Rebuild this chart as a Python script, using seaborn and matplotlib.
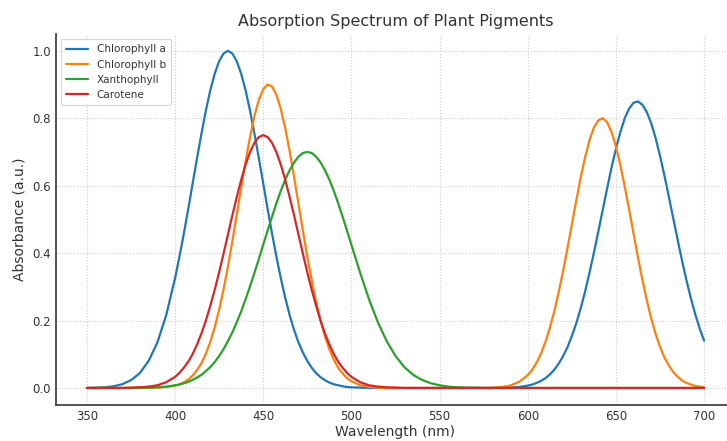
import numpy as np
import pandas as pd
import matplotlib
matplotlib.use("Agg")
import matplotlib.pyplot as plt
import seaborn as sns

# wavelength samples (nm): 5 nm steps on the flat parts, 2.5 nm around the peaks
wl_blue_1 = [350, 355, 360, 365, 370, 375, 380, 385, 390, 395]
wl_peaks_1 = list(np.arange(400, 500.1, 2.5))
wl_gap = [505, 510, 515, 520, 525, 530, 535, 540, 545, 550,
          555, 560, 565, 570, 575, 580, 585, 590, 595]
wl_peaks_2 = list(np.arange(600, 700.1, 2.5))
wavelength = wl_blue_1 + wl_peaks_1 + wl_gap + wl_peaks_2

chlorophyll_a = [
    # 350-395
    0.000, 0.001, 0.002, 0.005, 0.011, 0.023, 0.044, 0.080, 0.135, 0.216,
    # 400-500
    0.325, 0.389, 0.458, 0.531, 0.607, 0.682, 0.755, 0.823, 0.883, 0.932,
    0.969, 0.992, 1.000, 0.992, 0.969, 0.932, 0.883, 0.823, 0.755, 0.682,
    0.607, 0.531, 0.458, 0.389, 0.325, 0.267, 0.216, 0.172, 0.135, 0.105,
    0.080, 0.060, 0.044, 0.032, 0.023, 0.016, 0.011, 0.008, 0.005, 0.003,
    0.002,
    # 505-595
    0.001, 0.000, 0.000, 0.000, 0.000, 0.000, 0.000, 0.000, 0.000, 0.000,
    0.000, 0.000, 0.000, 0.000, 0.000, 0.000, 0.001, 0.001, 0.003,
    # 600-700
    0.007, 0.010, 0.015, 0.021, 0.029, 0.040, 0.054, 0.072, 0.094, 0.121,
    0.154, 0.192, 0.236, 0.286, 0.342, 0.401, 0.464, 0.528, 0.592, 0.654,
    0.710, 0.759, 0.800, 0.829, 0.846, 0.850, 0.840, 0.818, 0.785, 0.741,
    0.688, 0.630, 0.567, 0.503, 0.439, 0.377, 0.319, 0.266, 0.218, 0.176,
    0.140,
]
chlorophyll_b = [
    # 350-395
    0.000, 0.000, 0.000, 0.000, 0.000, 0.000, 0.000, 0.000, 0.001, 0.003,
    # 400-500
    0.007, 0.011, 0.017, 0.025, 0.037, 0.053, 0.074, 0.102, 0.137, 0.180,
    0.232, 0.292, 0.360, 0.435, 0.514, 0.594, 0.672, 0.744, 0.806, 0.854,
    0.886, 0.900, 0.894, 0.869, 0.827, 0.770, 0.702, 0.626, 0.546, 0.466,
    0.390, 0.319, 0.255, 0.200, 0.153, 0.115, 0.084, 0.060, 0.043, 0.029,
    0.020,
    # 505-595
    0.008, 0.003, 0.001, 0.000, 0.000, 0.000, 0.000, 0.000, 0.000, 0.000,
    0.000, 0.000, 0.000, 0.000, 0.000, 0.001, 0.003, 0.007, 0.018,
    # 600-700
    0.038, 0.054, 0.075, 0.102, 0.136, 0.178, 0.227, 0.283, 0.346, 0.414,
    0.485, 0.556, 0.624, 0.684, 0.735, 0.772, 0.794, 0.800, 0.788, 0.759,
    0.716, 0.661, 0.597, 0.528, 0.457, 0.387, 0.320, 0.260, 0.206, 0.160,
    0.122, 0.090, 0.066, 0.047, 0.033, 0.022, 0.015, 0.010, 0.006, 0.004,
    0.002,
]
xanthophyll = [
    # 350-395
    0.000, 0.000, 0.000, 0.000, 0.000, 0.000, 0.001, 0.001, 0.002, 0.004,
    # 400-500
    0.008, 0.010, 0.014, 0.018, 0.024, 0.031, 0.039, 0.050, 0.062, 0.077,
    0.095, 0.115, 0.139, 0.165, 0.195, 0.227, 0.263, 0.301, 0.341, 0.382,
    0.425, 0.467, 0.508, 0.548, 0.585, 0.618, 0.646, 0.669, 0.686, 0.697,
    0.700, 0.697, 0.686, 0.669, 0.646, 0.618, 0.585, 0.548, 0.508, 0.467,
    0.425,
    # 505-595
    0.341, 0.263, 0.195, 0.139, 0.095, 0.062, 0.039, 0.024, 0.014, 0.008,
    0.004, 0.002, 0.001, 0.001, 0.000, 0.000, 0.000, 0.000, 0.000,
    # 600-700
    0.000, 0.000, 0.000, 0.000, 0.000, 0.000, 0.000, 0.000, 0.000, 0.000,
    0.000, 0.000, 0.000, 0.000, 0.000, 0.000, 0.000, 0.000, 0.000, 0.000,
    0.000, 0.000, 0.000, 0.000, 0.000, 0.000, 0.000, 0.000, 0.000, 0.000,
    0.000, 0.000, 0.000, 0.000, 0.000, 0.000, 0.000, 0.000, 0.000, 0.000,
    0.000,
]
carotene = [
    # 350-395
    0.000, 0.000, 0.000, 0.000, 0.000, 0.001, 0.002, 0.004, 0.008, 0.017,
    # 400-500
    0.033, 0.045, 0.060, 0.078, 0.101, 0.129, 0.162, 0.200, 0.244, 0.291,
    0.343, 0.398, 0.455, 0.512, 0.566, 0.617, 0.662, 0.699, 0.727, 0.744,
    0.750, 0.744, 0.727, 0.699, 0.662, 0.617, 0.566, 0.512, 0.455, 0.398,
    0.343, 0.291, 0.244, 0.200, 0.162, 0.129, 0.101, 0.078, 0.060, 0.045,
    0.033,
    # 505-595
    0.017, 0.008, 0.004, 0.002, 0.001, 0.000, 0.000, 0.000, 0.000, 0.000,
    0.000, 0.000, 0.000, 0.000, 0.000, 0.000, 0.000, 0.000, 0.000,
    # 600-700
    0.000, 0.000, 0.000, 0.000, 0.000, 0.000, 0.000, 0.000, 0.000, 0.000,
    0.000, 0.000, 0.000, 0.000, 0.000, 0.000, 0.000, 0.000, 0.000, 0.000,
    0.000, 0.000, 0.000, 0.000, 0.000, 0.000, 0.000, 0.000, 0.000, 0.000,
    0.000, 0.000, 0.000, 0.000, 0.000, 0.000, 0.000, 0.000, 0.000, 0.000,
    0.000,
]

pigments = ["Chlorophyll a", "Chlorophyll b", "Xanthophyll", "Carotene"]
colors = ["#1f77b4", "#ff7f0e", "#2ca02c", "#d62728"]

# long-form table for seaborn
df = pd.concat([
    pd.DataFrame({"Wavelength": wavelength, "Absorbance": vals, "Pigment": name})
    for name, vals in zip(pigments, [chlorophyll_a, chlorophyll_b, xanthophyll, carotene])
])

sns.set_style("white")
plt.rcParams['font.family'] = ['DejaVu Sans']

fig = plt.figure(figsize=(7.27, 4.41), dpi=100)
ax = fig.add_axes([0.077, 0.082, 0.934, 0.841])

sns.lineplot(data=df, x="Wavelength", y="Absorbance", hue="Pigment",
             hue_order=pigments, palette=colors, linewidth=1.6, ax=ax)

ax.set_xlim(332.5, 717.5)
ax.set_ylim(-0.05, 1.05)
ax.set_xticks([350, 400, 450, 500, 550, 600, 650, 700])
ax.set_yticks([0.0, 0.2, 0.4, 0.6, 0.8, 1.0])

ax.grid(True, linestyle=':', linewidth=0.8, color='#cccccc')
ax.set_axisbelow(True)

for side in ['top', 'right']:
    ax.spines[side].set_visible(False)
for side in ['left', 'bottom']:
    ax.spines[side].set_color('#444444')
    ax.spines[side].set_linewidth(1.3)

ax.tick_params(axis='both', direction='in', length=4, width=1, colors='#555555',
               labelcolor='#333333', labelsize=8.5)

ax.set_title("Absorption Spectrum of Plant Pigments", fontsize=11.5, color='#333333')
ax.set_xlabel("Wavelength (nm)", fontsize=10, color='#333333', labelpad=2)
ax.set_ylabel("Absorbance (a.u.)", fontsize=10, color='#333333', labelpad=4)

leg = ax.legend(loc='upper left', fontsize=7.5, frameon=True, handlelength=2.1,
                borderpad=0.5, labelspacing=0.5)
leg.set_title(None)
leg.get_frame().set_edgecolor('#cccccc')
leg.get_frame().set_linewidth(0.8)
for t in leg.get_texts():
    t.set_color('#333333')

fig.savefig("out.png", dpi=100)
plt.close(fig)
